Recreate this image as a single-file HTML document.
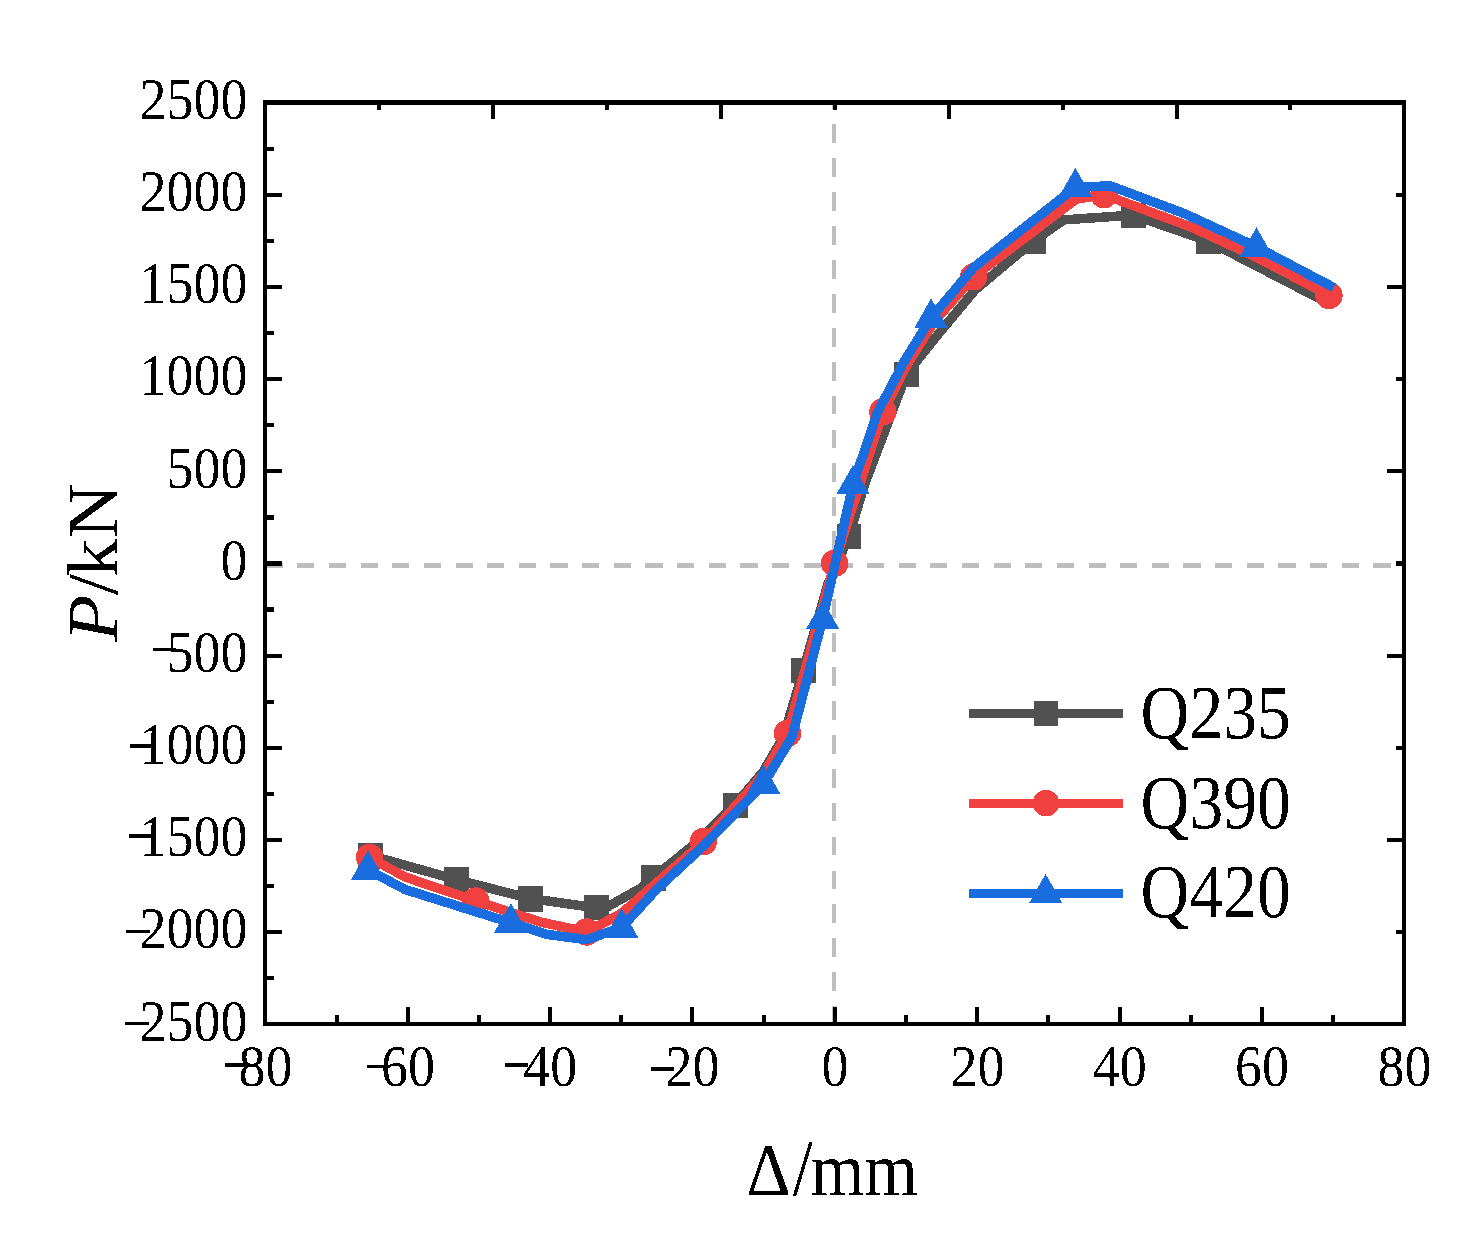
<!DOCTYPE html>
<html><head><meta charset="utf-8"><title>P-Delta skeleton curves</title>
<style>html,body{margin:0;padding:0;background:#fff}body{width:1472px;height:1244px;overflow:hidden;font-family:"Liberation Serif",serif}svg{display:block}</style>
</head><body>
<svg width="1472" height="1244" viewBox="0 0 1472 1244">
<defs><filter id="bw" x="0" y="0" width="1472" height="1244" filterUnits="userSpaceOnUse" color-interpolation-filters="sRGB"><feComponentTransfer><feFuncA type="discrete" tableValues="0 0 1 1"/></feComponentTransfer></filter></defs>
<rect width="1472" height="1244" fill="#fff"/>
<g fill="none" stroke="#BEBEBE" stroke-width="4.6" shape-rendering="crispEdges">
<path d="M265.6 565.5H1404" stroke-dasharray="17.2 14.45"/>
<path d="M834 1025V104" stroke-width="4" stroke-dasharray="18.8 15.12"/>
</g>
<g shape-rendering="crispEdges">
<path d="M370.5 855.5 L456.5 879.7 L530.6 898.6 L596.1 907.8 L606.0 907.6 L641.0 888.0 L653.3 877.7 L690.1 847.8 L735.1 805.0 L763.0 772.0 L783.5 737.0 L803.4 669.9 L828.0 584.0 L849.0 536.0 L864.5 484.5 L906.5 373.9 L940.0 332.0 L975.0 290.0 L1033.5 241.0 L1063.9 219.9 L1133.2 215.1 L1208.3 241.1 L1330.0 304.0" fill="none" stroke="#515151" stroke-width="9.5" stroke-linejoin="round" stroke-linecap="butt"/>
<rect x="358.1" y="843.1" width="24.8" height="25.4" fill="#515151"/>
<rect x="444.1" y="867.3" width="24.8" height="25.4" fill="#515151"/>
<rect x="518.2" y="886.2" width="24.8" height="25.4" fill="#515151"/>
<rect x="583.7" y="895.0" width="24.8" height="25.4" fill="#515151"/>
<rect x="640.9" y="865.3" width="24.8" height="25.4" fill="#515151"/>
<rect x="722.7" y="792.6" width="24.8" height="25.4" fill="#515151"/>
<rect x="791.0" y="657.5" width="24.8" height="25.4" fill="#515151"/>
<rect x="836.6" y="523.6" width="24.8" height="25.4" fill="#515151"/>
<rect x="894.1" y="361.5" width="24.8" height="25.4" fill="#515151"/>
<rect x="1021.1" y="228.6" width="24.8" height="25.4" fill="#515151"/>
<rect x="1120.8" y="202.7" width="24.8" height="25.4" fill="#515151"/>
<rect x="1195.9" y="228.7" width="24.8" height="25.4" fill="#515151"/>
<path d="M369.6 857.5 L405.2 877.0 L475.8 901.0 L540.0 921.9 L586.8 932.0 L622.0 913.0 L703.4 842.0 L734.5 807.0 L763.0 775.0 L787.5 733.4 L834.6 563.3 L882.9 411.8 L908.0 363.0 L934.0 322.0 L973.6 276.8 L1000.0 256.8 L1076.1 199.1 L1103.9 194.7 L1192.0 227.4 L1256.0 257.0 L1329.0 295.4" fill="none" stroke="#F04040" stroke-width="9.5" stroke-linejoin="round" stroke-linecap="butt"/>
<circle cx="369.6" cy="857.5" r="13.7" fill="#F04040"/>
<circle cx="475.8" cy="901.0" r="13.7" fill="#F04040"/>
<circle cx="586.8" cy="932.0" r="13.7" fill="#F04040"/>
<circle cx="703.4" cy="841.6" r="13.7" fill="#F04040"/>
<circle cx="787.5" cy="733.4" r="13.7" fill="#F04040"/>
<circle cx="834.6" cy="563.3" r="13.7" fill="#F04040"/>
<circle cx="882.9" cy="411.8" r="13.7" fill="#F04040"/>
<circle cx="973.6" cy="276.8" r="13.7" fill="#F04040"/>
<circle cx="1103.9" cy="194.7" r="13.7" fill="#F04040"/>
<circle cx="1329.0" cy="295.5" r="13.7" fill="#F04040"/>
<path d="M367.9 869.7 L405.0 889.5 L510.9 922.7 L547.5 934.5 L586.5 939.6 L621.5 927.7 L654.7 891.3 L703.4 846.0 L763.5 783.9 L792.0 737.0 L822.6 619.4 L853.0 484.5 L877.8 411.7 L905.0 360.0 L931.1 318.0 L973.6 267.5 L1075.4 187.4 L1110.4 185.8 L1185.0 213.8 L1256.5 246.9 L1333.9 287.6" fill="none" stroke="#1A6DDF" stroke-width="9.5" stroke-linejoin="round" stroke-linecap="butt"/>
<path d="M367.9 850.1L384.6 879.5L351.2 879.5Z" fill="#1A6DDF"/>
<path d="M510.9 903.1L527.6 932.5L494.2 932.5Z" fill="#1A6DDF"/>
<path d="M621.5 908.1L638.2 937.5L604.8 937.5Z" fill="#1A6DDF"/>
<path d="M763.5 764.3L780.2 793.7L746.8 793.7Z" fill="#1A6DDF"/>
<path d="M822.6 599.8L839.3 629.2L805.9 629.2Z" fill="#1A6DDF"/>
<path d="M853.0 464.9L869.7 494.3L836.3 494.3Z" fill="#1A6DDF"/>
<path d="M931.1 298.4L947.8 327.8L914.4 327.8Z" fill="#1A6DDF"/>
<path d="M1075.4 167.8L1092.1 197.2L1058.7 197.2Z" fill="#1A6DDF"/>
<path d="M1256.5 227.3L1273.2 256.7L1239.8 256.7Z" fill="#1A6DDF"/>
</g>
<g fill="#000" shape-rendering="crispEdges">
<rect x="263" y="100" width="1143" height="4.6"/>
<rect x="263" y="1022" width="1143" height="4"/>
<rect x="263" y="100" width="4" height="926"/>
<rect x="1402" y="100" width="4" height="926"/>
<rect x="267" y="976.1" width="7" height="4.3"/>
<rect x="267" y="930.0" width="15" height="4.3"/>
<rect x="267" y="883.9" width="7" height="4.3"/>
<rect x="267" y="837.8" width="15" height="4.3"/>
<rect x="267" y="791.7" width="7" height="4.3"/>
<rect x="267" y="745.6" width="15" height="4.3"/>
<rect x="267" y="699.6" width="7" height="4.3"/>
<rect x="267" y="653.5" width="15" height="4.3"/>
<rect x="267" y="607.4" width="7" height="4.3"/>
<rect x="267" y="561.3" width="15" height="4.3"/>
<rect x="267" y="515.2" width="7" height="4.3"/>
<rect x="267" y="469.1" width="15" height="4.3"/>
<rect x="267" y="423.0" width="7" height="4.3"/>
<rect x="267" y="377.0" width="15" height="4.3"/>
<rect x="267" y="330.9" width="7" height="4.3"/>
<rect x="267" y="284.8" width="15" height="4.3"/>
<rect x="267" y="238.7" width="7" height="4.3"/>
<rect x="267" y="192.6" width="15" height="4.3"/>
<rect x="267" y="146.5" width="7" height="4.3"/>
<rect x="1396" y="930.0" width="6" height="4.3"/>
<rect x="1387" y="837.8" width="15" height="4.3"/>
<rect x="1396" y="745.6" width="6" height="4.3"/>
<rect x="1387" y="653.5" width="15" height="4.3"/>
<rect x="1396" y="561.3" width="6" height="4.3"/>
<rect x="1387" y="469.1" width="15" height="4.3"/>
<rect x="1396" y="377.0" width="6" height="4.3"/>
<rect x="1387" y="284.8" width="15" height="4.3"/>
<rect x="1396" y="192.6" width="6" height="4.3"/>
<rect x="334.5" y="1015" width="4" height="7"/>
<rect x="405.7" y="1007" width="4" height="15"/>
<rect x="476.9" y="1015" width="4" height="7"/>
<rect x="548.0" y="1007" width="4" height="15"/>
<rect x="619.2" y="1015" width="4" height="7"/>
<rect x="690.4" y="1007" width="4" height="15"/>
<rect x="761.6" y="1015" width="4" height="7"/>
<rect x="832.8" y="1007" width="4" height="15"/>
<rect x="904.0" y="1015" width="4" height="7"/>
<rect x="975.2" y="1007" width="4" height="15"/>
<rect x="1046.4" y="1015" width="4" height="7"/>
<rect x="1117.5" y="1007" width="4" height="15"/>
<rect x="1188.7" y="1015" width="4" height="7"/>
<rect x="1259.9" y="1007" width="4" height="15"/>
<rect x="1331.1" y="1015" width="4" height="7"/>
<rect x="377.2" y="104" width="4" height="6"/>
<rect x="491.1" y="104" width="4" height="15"/>
<rect x="605.0" y="104" width="4" height="6"/>
<rect x="718.9" y="104" width="4" height="15"/>
<rect x="832.8" y="104" width="4" height="6"/>
<rect x="946.7" y="104" width="4" height="15"/>
<rect x="1060.6" y="104" width="4" height="6"/>
<rect x="1174.5" y="104" width="4" height="15"/>
<rect x="1288.4" y="104" width="4" height="6"/>
</g>
<g font-family='"Liberation Serif", serif' fill="#000" filter="url(#bw)">
<text transform="translate(247.4 1040.5) scale(0.900 1)" font-size="60.0" text-anchor="end" >2500</text>
<rect x="125.0" y="1021.6" width="23.5" height="3.5" shape-rendering="crispEdges"/>
<text transform="translate(247.4 948.3) scale(0.900 1)" font-size="60.0" text-anchor="end" >2000</text>
<rect x="126.1" y="929.9" width="23.5" height="3.5" shape-rendering="crispEdges"/>
<text transform="translate(247.4 856.2) scale(0.900 1)" font-size="60.0" text-anchor="end" >1500</text>
<rect x="128.9" y="834.2" width="23.5" height="3.5" shape-rendering="crispEdges"/>
<text transform="translate(247.4 764.0) scale(0.900 1)" font-size="60.0" text-anchor="end" >1000</text>
<rect x="130.0" y="744.0" width="23.5" height="3.5" shape-rendering="crispEdges"/>
<text transform="translate(247.4 671.8) scale(0.900 1)" font-size="60.0" text-anchor="end" >500</text>
<rect x="152.9" y="647.5" width="23.5" height="3.5" shape-rendering="crispEdges"/>
<text transform="translate(247.4 579.6) scale(0.900 1)" font-size="60.0" text-anchor="end" >0</text>
<text transform="translate(247.4 487.5) scale(0.900 1)" font-size="60.0" text-anchor="end" >500</text>
<text transform="translate(247.4 395.3) scale(0.900 1)" font-size="60.0" text-anchor="end" >1000</text>
<text transform="translate(247.4 303.1) scale(0.900 1)" font-size="60.0" text-anchor="end" >1500</text>
<text transform="translate(247.4 211.0) scale(0.900 1)" font-size="60.0" text-anchor="end" >2000</text>
<text transform="translate(247.4 118.8) scale(0.900 1)" font-size="60.0" text-anchor="end" >2500</text>
<text transform="translate(265.5 1086.4) scale(0.900 1)" font-size="60.0" text-anchor="middle" >80</text>
<rect x="225.1" y="1063.3" width="23.0" height="3.3" shape-rendering="crispEdges"/>
<text transform="translate(407.9 1086.4) scale(0.900 1)" font-size="60.0" text-anchor="middle" >60</text>
<rect x="366.8" y="1064.8" width="23.0" height="3.3" shape-rendering="crispEdges"/>
<text transform="translate(550.2 1086.4) scale(0.900 1)" font-size="60.0" text-anchor="middle" >40</text>
<rect x="505.0" y="1063.4" width="23.0" height="3.3" shape-rendering="crispEdges"/>
<text transform="translate(692.6 1086.4) scale(0.900 1)" font-size="60.0" text-anchor="middle" >20</text>
<rect x="651.1" y="1067.4" width="23.0" height="3.3" shape-rendering="crispEdges"/>
<text transform="translate(835.0 1086.4) scale(0.900 1)" font-size="60.0" text-anchor="middle" >0</text>
<text transform="translate(977.4 1086.4) scale(0.900 1)" font-size="60.0" text-anchor="middle" >20</text>
<text transform="translate(1119.8 1086.4) scale(0.900 1)" font-size="60.0" text-anchor="middle" >40</text>
<text transform="translate(1262.1 1086.4) scale(0.900 1)" font-size="60.0" text-anchor="middle" >60</text>
<text transform="translate(1404.5 1086.4) scale(0.900 1)" font-size="60.0" text-anchor="middle" >80</text>
<text transform="translate(746.4 1195) scale(0.9 0.957)" font-size="76.5">Δ</text>
<text transform="translate(792.8 1195.3) scale(0.900 1)" font-size="79.5" text-anchor="start" >/</text>
<text transform="translate(810.7 1195.0) scale(0.900 1)" font-size="76.5" text-anchor="start" >mm</text>
<text transform="translate(116.5 641.5) rotate(-90) scale(1 0.94)" font-size="76.5" font-style="italic">P</text>
<text transform="translate(116.5 595.3) rotate(-90) scale(1 0.94)" font-size="76.5">/</text>
<text transform="translate(116.5 576.9) rotate(-90) scale(1 0.94)" font-size="76.5">kN</text>
<text transform="translate(1140.6 737.6) scale(0.886 1)" font-size="76.3">Q235</text>
<text transform="translate(1140.6 827.5) scale(0.886 1)" font-size="76.3">Q390</text>
<text transform="translate(1140.6 917.4) scale(0.886 1)" font-size="76.3">Q420</text>
</g>
<g shape-rendering="crispEdges">
<rect x="969" y="708.8" width="154" height="9" fill="#515151"/>
<rect x="969" y="798.6" width="154" height="9" fill="#F04040"/>
<rect x="969" y="888.7" width="154" height="9" fill="#1A6DDF"/>
</g>
<g shape-rendering="crispEdges">
<rect x="1033.6" y="700.9" width="24.8" height="25.4" fill="#515151"/>
<circle cx="1046.0" cy="803.1" r="13.3" fill="#F04040"/>
<path d="M1045.6 874.0L1062.3 903.4L1028.9 903.4Z" fill="#1A6DDF"/>
</g>
</svg>
</body></html>
